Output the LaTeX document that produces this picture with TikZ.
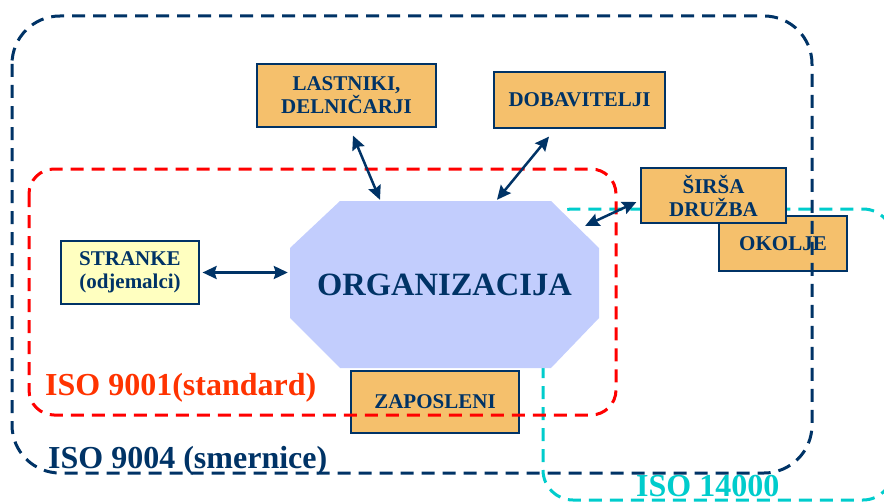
\documentclass[tikz,border=0pt]{standalone}
\usepackage{fontspec}
\setmainfont{Liberation Serif}
\usetikzlibrary{positioning,calc,arrows.meta}
\definecolor{navyblue}{RGB}{0,51,102}
\definecolor{boxorange}{RGB}{245,192,108}
\definecolor{paleyellow}{RGB}{255,255,192}
\definecolor{orglavender}{RGB}{194,205,253}
\definecolor{isored}{RGB}{255,0,0}
\definecolor{labelred}{RGB}{255,51,0}
\definecolor{isocyan}{RGB}{0,204,204}

\begin{document}
\begin{tikzpicture}[x=1pt, y=-1pt,
    box/.style={draw=navyblue, line width=1.2pt, fill=boxorange, inner sep=0pt, align=center, text=navyblue, font=\fontsize{21}{23}\selectfont\bfseries},
    zone/.style={line width=3pt, dash pattern=on 13pt off 8pt},
    link/.style={<->, >={Stealth[length=14pt,width=13pt,inset=2pt]}, line width=2.5pt, navyblue},
    isolabel/.style={anchor=base west, inner sep=0pt, font=\fontsize{32}{35}\selectfont\bfseries}]

  \useasboundingbox (0,0) rectangle (884,503);

  \draw[zone, isocyan, rounded corners=30pt] (543,209) rectangle (893,500);

  \fill[orglavender] (340,201) -- (551,201) -- (599,248) -- (599,318) -- (551,368) -- (340,368) -- (290,318) -- (290,248) -- cycle;
  \node[minimum width=309pt, minimum height=167pt, inner sep=0pt, text=navyblue, font=\fontsize{32.5}{36}\selectfont\bfseries] (org) at (444.5,284.5) {ORGANIZACIJA};

  \node[box, minimum width=179pt, minimum height=63pt] (owners) at (346.5,95.5) {LASTNIKI,\\DELNIČARJI};
  \node[box, minimum width=171pt, minimum height=56pt] (suppliers) at (579.5,100) {DOBAVITELJI};
  \node[box, minimum width=128pt, minimum height=55pt] (environment) at (783,243.5) {OKOLJE};
  \node[box, minimum width=145pt, minimum height=55pt] (society) at (713.5,195.5) {ŠIRŠA\\DRUŽBA};
  \node[box, fill=paleyellow, minimum width=138pt, minimum height=63pt] (customers) at (130,272.5) {STRANKE\\(odjemalci)};
  \node[box, minimum width=168pt, minimum height=62pt] (employees) at (435,402) {ZAPOSLENI};

  \draw[zone, navyblue, rounded corners=48pt] (12,16) rectangle (812,473);
  \draw[zone, isored, rounded corners=25pt] (29,169) rectangle (616,415);

  \draw[link] ($(customers.east)+(3,0)$) -- ($(customers.east -| org.west)+(-2,0)$);
  \draw[link] ($(owners.south)+(6.5,8)$) -- ($(org.north)+(-64.5,-1)$);
  \draw[link] ($(suppliers.south)+(-30.5,8)$) -- ($(org.north)+(52.5,-1)$);
  \draw[link] ($(society.west)+(-4,6.5)$) -- ($(org.north east)+(-14,25)$);

  \node[isolabel, text=labelred] (iso9001) at (45,395) {ISO 9001(standard)};
  \node[isolabel, text=navyblue] (iso9004) at (48,468) {ISO 9004 (smernice)};
  \node[isolabel, text=isocyan] (iso14000) at (636,496) {ISO 14000};
\end{tikzpicture}
\end{document}
